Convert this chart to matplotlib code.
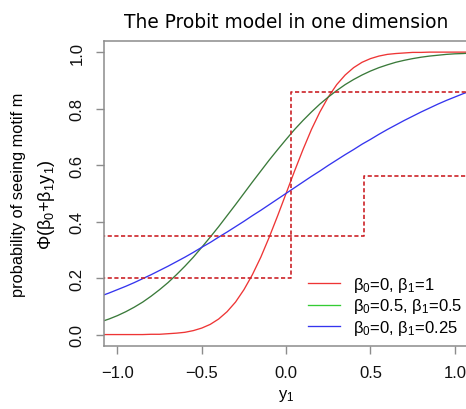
import matplotlib
matplotlib.use("Agg")
import matplotlib.pyplot as plt
from matplotlib.lines import Line2D

# values
y1 = [-1.1, -1.05, -1.0, -0.95, -0.9, -0.85, -0.8, -0.75, -0.7, -0.65, -0.6,
      -0.55, -0.5, -0.45, -0.4, -0.35, -0.3, -0.25, -0.2, -0.15, -0.1, -0.05,
      0.0, 0.05, 0.1, 0.15, 0.2, 0.25, 0.3, 0.35, 0.4, 0.45, 0.5, 0.55, 0.6,
      0.65, 0.7, 0.75, 0.8, 0.85, 0.9, 0.95, 1.0, 1.05, 1.1]

p_red = [0.000, 0.000, 0.000, 0.000, 0.000, 0.000, 0.001, 0.001, 0.003, 0.005,
         0.008, 0.014, 0.023, 0.036, 0.055, 0.081, 0.115, 0.159, 0.212, 0.274,
         0.345, 0.421, 0.500, 0.579, 0.655, 0.726, 0.788, 0.841, 0.885, 0.919,
         0.945, 0.964, 0.977, 0.986, 0.992, 0.995, 0.997, 0.999, 0.999, 1.000,
         1.000, 1.000, 1.000, 1.000, 1.000]

p_green = [0.045, 0.055, 0.067, 0.081, 0.097, 0.115, 0.136, 0.159, 0.184, 0.212,
           0.242, 0.274, 0.309, 0.345, 0.382, 0.421, 0.460, 0.500, 0.540, 0.579,
           0.618, 0.655, 0.691, 0.726, 0.758, 0.788, 0.816, 0.841, 0.864, 0.885,
           0.903, 0.919, 0.933, 0.945, 0.955, 0.964, 0.971, 0.977, 0.982, 0.986,
           0.989, 0.992, 0.994, 0.995, 0.997]

p_blue = [0.136, 0.147, 0.159, 0.171, 0.184, 0.198, 0.212, 0.227, 0.242, 0.258,
          0.274, 0.291, 0.309, 0.326, 0.345, 0.363, 0.382, 0.401, 0.421, 0.440,
          0.460, 0.480, 0.500, 0.520, 0.540, 0.560, 0.579, 0.599, 0.618, 0.637,
          0.655, 0.674, 0.691, 0.709, 0.726, 0.742, 0.758, 0.773, 0.788, 0.802,
          0.816, 0.829, 0.841, 0.853, 0.864]

# empirical step functions (dashed)
step1_x = [-1.1, 0.03, 1.1]
step1_p = [0.20, 0.86, 0.86]
step2_x = [-1.1, 0.46, 1.1]
step2_p = [0.35, 0.56, 0.56]

legend_labels = ["β$_0$=0, β$_1$=1", "β$_0$=0.5, β$_1$=0.5", "β$_0$=0, β$_1$=0.25"]

plt.rcParams['font.family'] = ['Liberation Sans', 'DejaVu Sans']
plt.rcParams['mathtext.fontset'] = 'custom'
plt.rcParams['mathtext.rm'] = 'Liberation Sans'
plt.rcParams['mathtext.it'] = 'Liberation Sans:italic'

fig = plt.figure(figsize=(4.66, 4.10), dpi=100)
ax = fig.add_axes([0.223, 0.154, 0.782, 0.744])

red = '#ee3535'
dark_red = '#cc2228'
ax.plot(y1, p_red, color=red, lw=0.95)
ax.plot(y1, p_green, color='#3a7a3a', lw=0.95)
ax.plot(y1, p_blue, color='#3535ee', lw=0.95)
ax.plot(step1_x, step1_p, drawstyle='steps-post', color=dark_red, lw=1.2, dashes=(2.5, 1.5))
ax.plot(step2_x, step2_p, drawstyle='steps-post', color=dark_red, lw=1.2, dashes=(2.5, 1.5))

ax.set_xlim(-1.08, 1.08)
ax.set_ylim(-0.04, 1.04)
ax.set_xticks([-1.0, -0.5, 0.0, 0.5, 1.0])
ax.set_yticks([0.0, 0.2, 0.4, 0.6, 0.8, 1.0])
ax.set_xticklabels(['\u22121.0', '\u22120.5', '0.0', '0.5', '1.0'])
ax.set_yticklabels(['0.0', '0.2', '0.4', '0.6', '0.8', '1.0'])

for s in ax.spines.values():
    s.set_color('#8c8c8c')
    s.set_linewidth(1.1)
ax.spines['right'].set_visible(False)
ax.tick_params(axis='both', direction='out', length=6, width=1.0, color='#8c8c8c',
               labelsize=12, labelcolor='#111111')
ax.tick_params(axis='x', pad=8)
ax.tick_params(axis='y', pad=8, labelrotation=90)
for lab in ax.get_yticklabels():
    lab.set_va('center')

ax.set_title("The Probit model in one dimension", fontsize=13.4,
             family='DejaVu Sans', pad=10)
ax.set_xlabel("y$_1$", fontsize=12, labelpad=5)

fig.text(0.039, 0.524, "probability of seeing motif m", rotation=90,
         fontsize=11.8, ha='center', va='center')
fig.text(0.099, 0.50, "Φ(β$_0$+β$_1$y$_1$)", rotation=90,
         fontsize=13, ha='center', va='center')

handles = [Line2D([], [], color=red, lw=0.95),
           Line2D([], [], color='#33cc33', lw=0.95),
           Line2D([], [], color='#3535ee', lw=0.95)]
ax.legend(handles, legend_labels, loc='center left', bbox_to_anchor=(0.56, 0.131),
          frameon=False, fontsize=12, borderpad=0, borderaxespad=0,
          handlelength=1.9, handletextpad=0.8, labelspacing=0.15)

fig.savefig('out.png', dpi=100)
